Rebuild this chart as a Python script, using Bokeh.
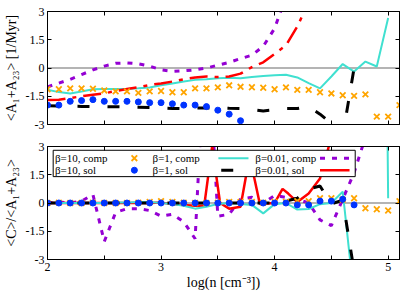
from bokeh.plotting import figure
from bokeh.models import FixedTicker, LinearAxis, Span, Range1d, CustomLabelingPolicy
from bokeh.layouts import column
from bokeh.embed import file_html
from bokeh.resources import INLINE
from bokeh.core.properties import value

NaN = float("nan")

# ---------------- data ----------------
x_major_ticks = [2, 3, 4, 5]
x_minor_ticks = [2.5, 3.5, 4.5]
x_all_ticks = [2, 2.5, 3, 3.5, 4, 4.5, 5]
y_ticks = [-3, -1.5, 0, 1.5, 3]
y_tick_labels = {-3: "-3", -1.5: "-1.5", 0: "0", 1.5: "1.5", 3: "3"}

logn_full = [2.0, 2.1, 2.2, 2.3, 2.4, 2.5, 2.6, 2.7, 2.8, 2.9, 3.0, 3.1, 3.2, 3.3, 3.4, 3.5,
             3.6, 3.7, 3.8, 3.9, 4.0, 4.1, 4.2, 4.3, 4.4, 4.5, 4.6, 4.7, 4.8, 4.9, 5.0, 5.1]

# top panel: <A1+A23> [1/Myr]
top_b10_comp = [-1.13, -1.13, -1.08, -1.08, -1.10, -1.19, -1.24, -1.24, -1.32, -1.24, -1.22, -1.29,
                -1.29, -1.08, -1.08, -1.03, -0.92, -1.00, -1.02, -1.05, -1.13, -1.03, -1.16, -1.16,
                -1.29, -1.35, -1.45, -1.48, -1.40, -2.58, -2.58, -1.97]
logn_top_b10_sol = [2.0, 2.1, 2.2, 2.3, 2.4, 2.5, 2.6, 2.7, 2.8, 2.9, 3.0, 3.1, 3.2, 3.3, 3.4, 3.5, 3.6, 3.7]
top_b10_sol = [-1.97, -1.97, -1.77, -1.73, -1.68, -1.77, -1.77, -1.77, -1.80, -1.84, -1.84, -1.90,
               -1.97, -1.97, -2.05, -2.24, -2.45, -2.80]
logn_top_b1_comp = [2.0, 2.1, 2.2, 2.3, 2.4, 2.5, 2.6, 2.7, 2.8, 2.9, 3.0, 3.1, 3.2, 3.3, 3.4, 3.5,
                    3.6, 3.7, 3.8, 3.9, 4.0, 4.1, 4.2, 4.3, 4.4, 4.5, 4.6, 4.7, 4.8, 4.9, 5.0]
top_b1_comp = [-1.16, -1.28, -1.35, -1.25, -1.13, -1.12, -1.12, -1.12, -1.08, -1.03, -0.92, -0.82,
               -0.72, -0.63, -0.60, -0.55, -0.52, -0.55, -0.48, -0.43, -0.38, -0.36, -0.50, -0.80,
               -1.08, -0.45, 0.21, -0.19, 0.34, 0.08, 2.66]
logn_top_b1_sol = [2.0, 2.1, 2.2, 2.3, 2.4, 2.5, 2.6, 2.7, 2.8, 2.9, 3.0, 3.1, 3.2, 3.3, 3.4, 3.5,
                   3.6, 3.7, 3.8, 3.9, 4.0, 4.1, 4.2, 4.3, 4.4, 4.5, 4.6, 4.7]
top_b1_sol = [-2.00, -2.02, -2.03, -2.04, -2.05, -2.05, -2.06, -2.07, -2.08, -2.10, -2.12, -2.15,
              -2.16, -2.13, -2.12, -2.12, -2.14, -2.15, -2.20, -2.28, -2.22, -2.15, -2.15, -2.05,
              -2.45, -2.95, -3.60, 0.00]
logn_top_b001_comp = [2.0, 2.1, 2.2, 2.3, 2.4, 2.5, 2.6, 2.7, 2.8, 2.9, 3.0, 3.1, 3.2, 3.3, 3.4,
                      3.5, 3.6, 3.7, 3.8, 3.9, 4.0, 4.1]
top_b001_comp = [-1.00, -0.80, -0.60, -0.35, -0.10, 0.10, 0.25, 0.27, 0.22, 0.10, -0.10, -0.18,
                 -0.15, -0.10, 0.00, 0.15, 0.30, 0.50, 0.68, 1.15, 2.10, 3.80]
logn_top_b001_sol = [2.0, 2.1, 2.2, 2.3, 2.4, 2.5, 2.6, 2.7, 2.8, 2.9, 3.0, 3.1, 3.2, 3.3, 3.4,
                     3.5, 3.6, 3.7, 3.8, 3.9, 4.0, 4.1, 4.2, 4.3]
top_b001_sol = [-1.70, -1.68, -1.60, -1.50, -1.42, -1.35, -1.22, -1.12, -1.02, -0.90, -0.82, -0.72,
                -0.60, -0.50, -0.45, -0.48, -0.45, -0.30, 0.05, 0.30, 0.75, 1.20, 2.20, 3.50]

# bottom panel: <C>/<A1+A23>
bot_b10_comp = [0.00, 0.02, 0.00, 0.00, 0.02, 0.00, 0.00, 0.00, 0.02, 0.05, 0.10, 0.05, 0.02, 0.00,
                0.00, 0.02, 0.05, 0.05, 0.05, 0.02, 0.05, 0.05, 0.10, 0.10, 0.25, 0.25, 0.18, 0.25,
                -0.28, -0.33, -0.40, 0.10]
logn_bot_b10_sol = [2.0, 2.1, 2.2, 2.3, 2.4, 2.5, 2.6, 2.7, 2.8, 2.9, 3.0, 3.1, 3.2, 3.3, 3.4, 3.5,
                    3.6, 3.7, 3.8, 3.9, 4.0, 4.1, 4.2, 4.3, 4.4, 4.5, 4.6, 4.7]
bot_b10_sol = [0.00, 0.00, 0.00, 0.00, 0.00, 0.00, 0.00, 0.00, 0.00, 0.00, 0.00, 0.00, 0.00, 0.00,
               0.00, 0.00, 0.00, 0.00, 0.00, 0.00, 0.00, 0.00, -0.10, -0.10, 0.10, 0.10, 0.20, -0.10]
logn_bot_b1_comp = logn_top_b1_comp
bot_b1_comp = [0.00, 0.00, 0.00, 0.00, 0.00, 0.00, 0.02, 0.03, 0.05, 0.05, 0.00, -0.05, -0.15,
               -0.30, -0.20, -0.05, 0.00, -0.05, -0.10, -0.55, -0.06, 0.00, -0.35, -0.32, -0.06,
               0.00, 0.60, -5.00, NaN, 60.0, 0.25]
logn_bot_b1_sol = logn_top_b1_sol
bot_b1_sol = [0.00, 0.00, 0.00, 0.00, 0.00, 0.00, 0.00, 0.00, 0.00, 0.00, 0.00, 0.00, 0.00, 0.00,
              0.00, 0.00, 0.00, 0.00, 0.00, 0.00, 0.00, 0.10, 0.25, 0.75, 0.90, -0.05, 0.15, -3.60]
logn_bot_b001_comp = [2.0, 2.1, 2.2, 2.3, 2.4, 2.5, 2.6, 2.7, 2.8, 2.9, 3.0, 3.1, 3.2, 3.3, 3.4,
                      3.5, 3.6, 3.7, 3.8, 3.9, 4.0, 4.1, 4.2, 4.3, 4.4, 4.5, 4.6, 4.7, 4.8]
bot_b001_comp = [0.00, 0.05, 0.00, 0.10, 0.45, -2.05, -0.50, -0.30, -0.30, -0.40, -0.70, -0.60,
                 -1.00, -1.90, 10.0, -0.70, -0.60, 0.20, 0.30, 0.00, 0.40, 0.30, 0.20, 0.00, -0.90,
                 -1.20, 0.20, 1.60, 3.50]
logn_bot_b001_sol = [2.0, 2.1, 2.2, 2.3, 2.4, 2.5, 2.6, 2.7, 2.8, 2.9, 3.0, 3.1, 3.2, 3.3, 3.38,
                     3.45, 3.52, 3.6, 3.7, 3.78, 3.87, 4.0, 4.07, 4.12, 4.2, 4.3, 4.4, 4.5]
bot_b001_sol = [0.00, 0.00, 0.00, 0.00, 0.00, 0.00, 0.00, 0.00, 0.00, 0.00, 0.02, -0.05, -0.10,
                -0.15, -0.15, 3.00, 0.00, -0.30, -0.20, 2.50, -0.05, 0.00, 0.75, 0.50, 0.05,
                0.50, 1.30, 3.50]

legend_labels = ["β=10, comp", "β=1, comp", "β=0.01, comp", "β=10, sol", "β=1, sol", "β=0.01, sol"]

# ---------------- style ----------------
FONT = "Liberation Serif"
ORANGE = "#FFA500"
BLUE = "#0033FF"
CYAN = "#40E0D0"
BLACK = "#000000"
PURPLE = "#9400D3"
RED = "#FF0000"
XR = (2.0, 5.1)
YR = (-3.0, 3.0)


def no_labels():
    return CustomLabelingPolicy(code="for (const i of indices) { indices.unset(i) }\nreturn indices")


def make_fig(show_x_labels, ylabel, top_border, bottom_border):
    p = figure(frame_width=352, frame_height=113, output_backend="svg", toolbar_location=None,
               x_range=Range1d(*XR), y_range=Range1d(*YR),
               min_border_left=38, min_border_right=2,
               min_border_top=top_border, min_border_bottom=bottom_border,
               background_fill_color="white", border_fill_color="white")
    p.grid.visible = False
    p.outline_line_color = "black"
    p.outline_line_width = 1
    for ax in (p.xaxis[0], p.yaxis[0]):
        ax.major_tick_in = 4
        ax.major_tick_out = 0
        ax.minor_tick_in = 4
        ax.minor_tick_out = 0
        ax.axis_line_color = "black"
        ax.major_tick_line_color = "black"
        ax.minor_tick_line_color = "black"
        ax.major_label_text_font = FONT
        ax.major_label_text_font_size = "12px"
        ax.major_label_text_color = "black"
        ax.axis_label_text_font = FONT
        ax.axis_label_text_font_style = "normal"
        ax.axis_label_text_color = "black"
        ax.axis_label_text_font_size = "14px"
    p.xaxis.ticker = FixedTicker(ticks=x_major_ticks, minor_ticks=x_minor_ticks)
    p.yaxis.ticker = FixedTicker(ticks=y_ticks, minor_ticks=[])
    p.yaxis.major_label_overrides = y_tick_labels
    p.yaxis.axis_label = ylabel
    p.yaxis.axis_label_standoff = 4
    p.yaxis.major_label_standoff = 3
    if show_x_labels:
        p.xaxis.axis_label = "log(n [cm⁻³])"
        p.xaxis.axis_label_standoff = 1
        p.xaxis.major_label_standoff = 3
    else:
        p.xaxis.major_label_policy = no_labels()
        p.xaxis.major_label_standoff = 0
    # mirrored inward ticks on top and right
    top_ax = LinearAxis(ticker=FixedTicker(ticks=x_all_ticks, minor_ticks=[]), major_tick_in=4,
                        major_tick_out=0, minor_tick_line_color=None,
                        major_label_policy=no_labels(), major_label_standoff=0,
                        axis_line_color="black")
    right_ax = LinearAxis(ticker=FixedTicker(ticks=y_ticks, minor_ticks=[]), major_tick_in=4,
                          major_tick_out=0, minor_tick_line_color=None,
                          major_label_policy=no_labels(), major_label_standoff=0,
                          axis_line_color="black")
    p.add_layout(top_ax, "above")
    p.add_layout(right_ax, "right")
    p.add_layout(Span(location=0, dimension="width", line_color="#B4B4B4", line_width=2,
                      level="underlay"))
    return p


# ---------------- top panel ----------------
p1 = make_fig(False, "<A₁+A₂₃> [1/Myr]", 5, 6)
p1.line(logn_top_b1_comp, top_b1_comp, line_color=CYAN, line_width=2)
p1.line(logn_top_b001_sol, top_b001_sol, line_color=RED, line_width=2.5, line_dash="18 7 4 7")
p1.line(logn_top_b001_comp, top_b001_comp, line_color=PURPLE, line_width=3, line_dash="5 7")
p1.line(logn_top_b1_sol, top_b1_sol, line_color=BLACK, line_width=3, line_dash="12 18")
p1.scatter(logn_top_b10_sol, top_b10_sol, marker="circle", size=6, fill_color=BLUE,
           line_color=BLUE)
p1.scatter(logn_full, top_b10_comp, marker="x", size=8, line_color=ORANGE, line_width=1.8)

# ---------------- bottom panel ----------------
p2 = make_fig(True, "<C>/<A₁+A₂₃>", 7, 2)
p2.line(logn_bot_b001_comp, bot_b001_comp, line_color=PURPLE, line_width=3, line_dash="5 7")
p2.line(logn_bot_b001_sol, bot_b001_sol, line_color=RED, line_width=2.5)
p2.line(logn_bot_b1_comp, bot_b1_comp, line_color=CYAN, line_width=2)
p2.line(logn_bot_b1_sol, bot_b1_sol, line_color=BLACK, line_width=3, line_dash="12 18")
p2.scatter(logn_full, bot_b10_comp, marker="x", size=8, line_color=ORANGE, line_width=1.8)
p2.scatter(logn_bot_b10_sol, bot_b10_sol, marker="circle", size=6, fill_color=BLUE,
           line_color=BLUE)

# legend (text followed by sample, gnuplot style), placed in data coordinates
lg_left, lg_right, lg_top, lg_bottom = 2.05, 4.71, 2.80, 1.40
row_y = [2.38, 1.74]
text_x = [2.065, 2.925, 3.83]
p2.quad(left=[lg_left], right=[lg_right], top=[lg_top], bottom=[lg_bottom],
        fill_color="white", line_color="black", line_width=1)
p2.text(x=[text_x[0], text_x[1], text_x[2], text_x[0], text_x[1], text_x[2]],
        y=[row_y[0], row_y[0], row_y[0], row_y[1], row_y[1], row_y[1]],
        text=legend_labels, text_font=value(FONT), text_font_size="11px",
        text_baseline="middle", text_align="left", text_color="black")
p2.scatter([2.765], [row_y[0]], marker="x", size=8, line_color=ORANGE, line_width=1.8)
p2.scatter([2.765], [row_y[1]], marker="circle", size=6, fill_color=BLUE, line_color=BLUE)
p2.line([3.505, 3.77], [row_y[0], row_y[0]], line_color=CYAN, line_width=2)
p2.line([3.53, 3.77], [row_y[1], row_y[1]], line_color=BLACK, line_width=3, line_dash="12 18")
p2.line([4.40, 4.66], [row_y[0], row_y[0]], line_color=PURPLE, line_width=3, line_dash="5 7")
p2.line([4.40, 4.66], [row_y[1], row_y[1]], line_color=RED, line_width=2.5)

layout = column(p1, p2, spacing=0)
open("out.html", "w").write(file_html(layout, INLINE))
